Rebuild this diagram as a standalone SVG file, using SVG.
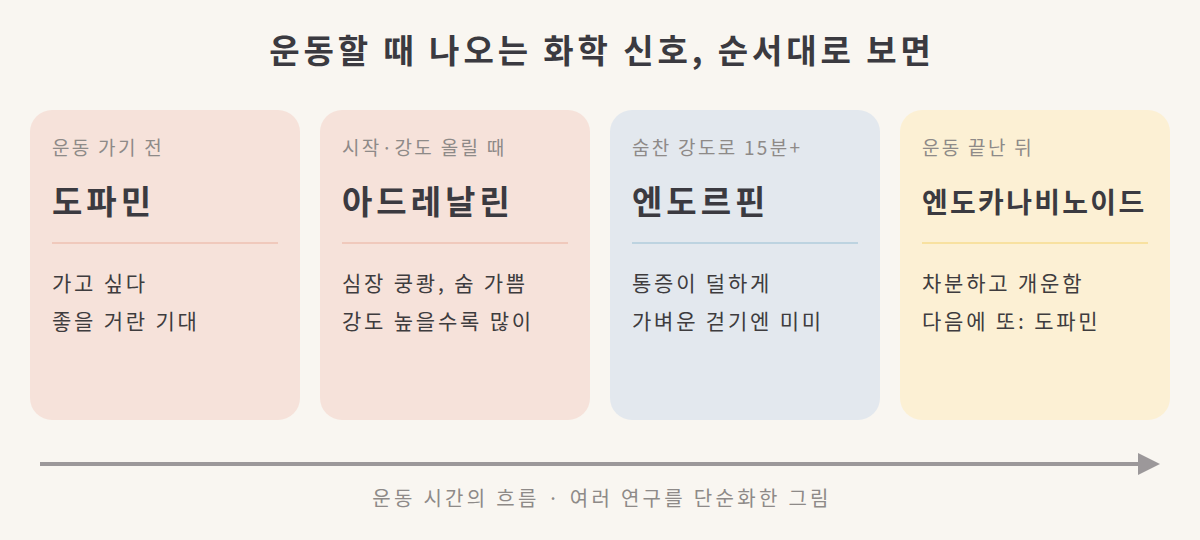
<svg xmlns="http://www.w3.org/2000/svg" width="1200" height="540" viewBox="0 0 1200 540">
<defs>
<style>
text{font-family:"Noto Sans CJK KR","Noto Sans",sans-serif}
.ttl{font-size:33px;font-weight:700;fill:#3b3a40;text-anchor:middle;letter-spacing:3.9px}
.lab{font-size:19px;fill:#8e8a88;letter-spacing:2.3px}
.name{font-size:33px;font-weight:700;fill:#3b3a40;letter-spacing:4px}
.body{font-size:21px;fill:#3e3c3e;letter-spacing:2.8px}
.cap{font-size:20px;fill:#8e8a88;text-anchor:middle;letter-spacing:3.3px}
.div{stroke-width:2}
</style>
</defs>
<rect width="1200" height="540" fill="#f9f6f1"/>
<text class="ttl" x="602" y="63">운동할 때 나오는 화학 신호, 순서대로 보면</text>
<g id="card1">
<rect x="30" y="110" width="270" height="310" rx="22" fill="#f6e2da"/>
<text class="lab" x="52" y="155">운동 가기 전</text>
<text class="name" x="52" y="214">도파민</text>
<line class="div" x1="52" y1="243" x2="278" y2="243" stroke="#f0c9bc"/>
<text class="body" x="52" y="291">가고 싶다</text>
<text class="body" x="52" y="329">좋을 거란 기대</text>
</g>
<g id="card2">
<rect x="320" y="110" width="270" height="310" rx="22" fill="#f6e2da"/>
<text class="lab" x="342" y="155">시작·강도 올릴 때</text>
<text class="name" x="342" y="214">아드레날린</text>
<line class="div" x1="342" y1="243" x2="568" y2="243" stroke="#f0c9bc"/>
<text class="body" x="342" y="291">심장 쿵쾅, 숨 가쁨</text>
<text class="body" x="342" y="329">강도 높을수록 많이</text>
</g>
<g id="card3">
<rect x="610" y="110" width="270" height="310" rx="22" fill="#e3e8ee"/>
<text class="lab" x="632" y="155">숨찬 강도로 15분+</text>
<text class="name" x="632" y="214">엔도르핀</text>
<line class="div" x1="632" y1="243" x2="858" y2="243" stroke="#bdd3e0"/>
<text class="body" x="632" y="291">통증이 덜하게</text>
<text class="body" x="632" y="329">가벼운 걷기엔 미미</text>
</g>
<g id="card4">
<rect x="900" y="110" width="270" height="310" rx="22" fill="#fcf0d4"/>
<text class="lab" x="922" y="155">운동 끝난 뒤</text>
<text class="name" x="922" y="213" style="font-size:28px;letter-spacing:2.3px">엔도카나비노이드</text>
<line class="div" x1="922" y1="243" x2="1148" y2="243" stroke="#f8e1a0"/>
<text class="body" x="922" y="291">차분하고 개운함</text>
<text class="body" x="922" y="329">다음에 또: 도파민</text>
</g>
<g id="connectors">
<line x1="40" y1="464" x2="1140" y2="464" stroke="#9c989a" stroke-width="4"/>
<polygon points="1138,453 1160,464 1138,475" fill="#9c989a"/>
</g>
<text class="cap" x="602" y="506">운동 시간의 흐름 · 여러 연구를 단순화한 그림</text>
</svg>
